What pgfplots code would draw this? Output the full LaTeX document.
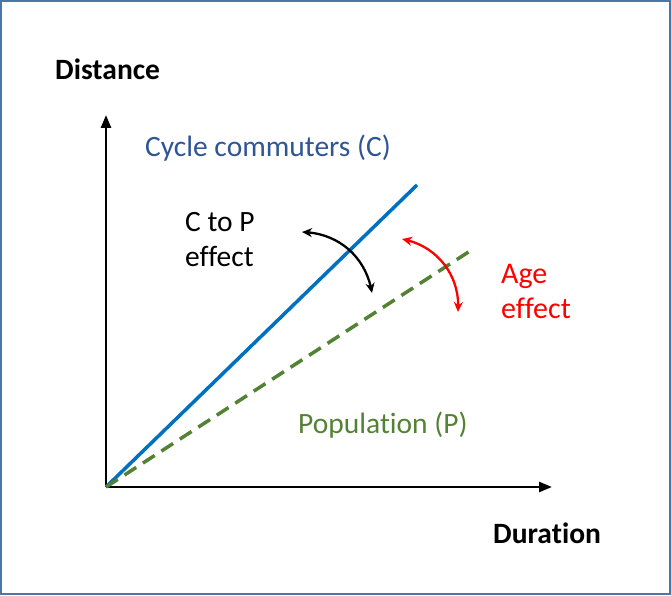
\documentclass[border=0pt]{standalone}
\usepackage{pgfplots}
\pgfplotsset{compat=1.18}
\usepackage{fontspec}
\setmainfont{Carlito}[Ligatures={NoCommon}]
\usetikzlibrary{arrows.meta,bending}
\definecolor{bordc}{HTML}{4A76A8}
\definecolor{lineblue}{HTML}{0070C0}
\definecolor{txtblue}{HTML}{2F5597}
\definecolor{pgreen}{HTML}{548235}
\definecolor{ared}{HTML}{FF0000}
\begin{document}
\begin{tikzpicture}[x=1pt,y=1pt]
\fill[white] (0,0) rectangle (671,595);
\draw[bordc,line width=2pt] (1,1) rectangle (670,594);
\begin{axis}[
  at={(106pt,108pt)}, anchor=origin,
  scale only axis, width=446pt, height=372pt,
  xmin=0, xmax=446, ymin=0, ymax=372,
  axis lines=left,
  axis line style={line width=2.5pt,-{Triangle[length=13pt,width=10pt]}},
  xtick=\empty, ytick=\empty,
  clip=false,
]
\addplot[lineblue, line width=3.5pt] coordinates {(0,0) (311,302)};
\addplot[pgreen, line width=3.5pt, dash pattern=on 14pt off 8pt] coordinates {(0,0) (364,236)};
\draw[black, line width=2.3pt, {Stealth[length=10pt,width=9pt,flex]}-{Stealth[length=10pt,width=9pt,flex]}]
  (axis cs:196,255) to[bend left=40] (axis cs:266,194);
\draw[ared, line width=2.3pt, {Stealth[length=10pt,width=9pt,flex]}-{Stealth[length=10pt,width=9pt,flex]}]
  (axis cs:296,248) to[bend left=42] (axis cs:352,175);
\end{axis}
\begin{scope}[every node/.style={inner sep=0pt, anchor=base west}]
\node[font=\fontsize{29.5}{35}\selectfont\bfseries] at (55,515) {Distance};
\node[font=\fontsize{29.5}{35}\selectfont\bfseries] at (493,52) {Duration};
\node[font=\fontsize{29.5}{35}\selectfont, text=txtblue] at (145,438) {Cycle commuters (C)};
\node[font=\fontsize{29.5}{35}\selectfont, text=pgreen] at (298,162) {Population (P)};
\node[font=\fontsize{29.5}{35}\selectfont] at (185,363) {C to P};
\node[font=\fontsize{29.5}{35}\selectfont] at (185,328) {effect};
\node[font=\fontsize{30}{35}\selectfont, text=ared] at (501,312) {Age};
\node[font=\fontsize{30}{35}\selectfont, text=ared] at (501,277) {effect};
\end{scope}
\end{tikzpicture}
\end{document}
